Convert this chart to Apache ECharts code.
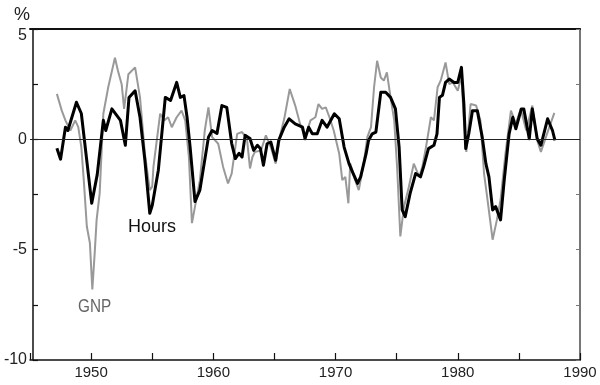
<!DOCTYPE html>
<html>
<head>
<meta charset="utf-8">
<script src="https://cdn.jsdelivr.net/npm/echarts@6/dist/echarts.min.js"></script>
<style>html,body{margin:0;padding:0;background:#fff}#c{width:600px;height:385px}</style>
</head>
<body>
<div id="c"></div>
<script>
var xTicks = [1950, 1960, 1970, 1980, 1990];
var yTicks = [5, 0, -5, -10];

var hours = [[1947.2,-0.4],[1947.5,-0.9],[1947.9,0.55],[1948.1,0.4],[1948.8,1.68],[1949.2,1.17],[1950.05,-2.9],[1950.5,-1.6],[1951.0,0.86],[1951.2,0.4],[1951.7,1.38],[1952.4,0.86],[1952.8,-0.27],[1953.1,1.9],[1953.6,2.2],[1954.0,1.0],[1954.4,-0.95],[1954.8,-3.35],[1955.0,-3.0],[1955.5,-1.4],[1956.07,1.9],[1956.5,1.76],[1957.0,2.58],[1957.3,1.9],[1957.6,1.98],[1957.85,1.0],[1958.1,-0.35],[1958.5,-2.82],[1958.9,-2.3],[1959.6,0.1],[1959.9,0.4],[1960.3,0.27],[1960.7,1.53],[1961.1,1.45],[1961.5,-0.18],[1961.8,-0.87],[1962.1,-0.63],[1962.35,-0.8],[1962.6,0.18],[1963.0,0.04],[1963.3,-0.5],[1963.6,-0.27],[1963.85,-0.42],[1964.1,-1.17],[1964.4,-0.2],[1964.7,-0.12],[1965.1,-0.95],[1965.35,-0.05],[1965.8,0.55],[1966.2,0.93],[1966.7,0.7],[1967.3,0.55],[1967.5,0.03],[1967.8,0.55],[1968.1,0.25],[1968.5,0.25],[1968.9,0.86],[1969.3,0.55],[1969.9,1.16],[1970.3,0.93],[1970.7,-0.35],[1971.1,-1.1],[1971.4,-1.5],[1971.8,-2.0],[1972.05,-1.7],[1972.5,-0.65],[1972.7,-0.05],[1973.0,0.25],[1973.3,0.33],[1973.7,2.13],[1974.1,2.13],[1974.5,1.9],[1974.9,1.38],[1975.2,-0.35],[1975.45,-3.2],[1975.7,-3.5],[1976.1,-2.45],[1976.55,-1.55],[1976.95,-1.7],[1977.2,-1.25],[1977.6,-0.42],[1978.05,-0.27],[1978.3,0.25],[1978.5,1.9],[1978.75,2.0],[1979.0,2.58],[1979.3,2.73],[1979.7,2.58],[1980.0,2.58],[1980.3,3.26],[1980.5,1.6],[1980.65,-0.42],[1980.9,0.25],[1981.2,1.3],[1981.6,1.3],[1982.0,0.1],[1982.3,-1.1],[1982.55,-1.7],[1982.85,-3.2],[1983.1,-3.05],[1983.5,-3.65],[1983.8,-1.85],[1984.2,0.25],[1984.5,1.0],[1984.75,0.48],[1985.2,1.38],[1985.4,1.38],[1985.85,0.03],[1986.1,1.38],[1986.5,0.03],[1986.8,-0.27],[1987.35,0.93],[1987.75,0.4],[1987.95,-0.05]];

var gnp = [[1947.2,2.06],[1947.6,1.3],[1947.9,0.86],[1948.3,0.4],[1948.7,0.86],[1948.95,0.55],[1949.2,-0.35],[1949.4,-1.85],[1949.65,-3.95],[1949.9,-4.7],[1950.1,-6.8],[1950.3,-5.1],[1950.45,-3.65],[1950.7,-2.45],[1951.0,1.16],[1951.4,2.36],[1951.95,3.7],[1952.2,3.1],[1952.5,2.5],[1952.7,1.38],[1953.05,2.95],[1953.6,3.26],[1954.0,1.9],[1954.4,-0.65],[1954.8,-2.3],[1955.0,-2.15],[1955.1,-1.25],[1955.65,1.16],[1956.0,0.86],[1956.3,1.0],[1956.6,0.55],[1957.0,1.0],[1957.4,1.3],[1957.7,0.86],[1958.0,-0.8],[1958.25,-3.8],[1958.5,-3.05],[1958.9,-1.85],[1959.3,0.4],[1959.6,1.45],[1959.9,0.1],[1960.4,-0.2],[1960.8,-1.25],[1961.2,-2.0],[1961.5,-1.55],[1961.95,0.25],[1962.35,0.33],[1962.75,0.03],[1963.0,-1.32],[1963.2,-0.8],[1963.4,-0.57],[1963.9,-0.5],[1964.3,0.18],[1964.7,-0.35],[1965.1,-1.1],[1965.5,0.25],[1965.8,0.93],[1966.25,2.28],[1966.7,1.53],[1967.1,0.7],[1967.5,0.1],[1967.95,0.86],[1968.35,1.0],[1968.6,1.6],[1968.9,1.38],[1969.2,1.45],[1969.5,1.0],[1969.85,0.4],[1970.3,-0.65],[1970.55,-1.85],[1970.8,-1.7],[1971.05,-2.9],[1971.2,-1.1],[1971.6,-1.85],[1971.9,-2.3],[1972.3,-1.1],[1972.6,0.1],[1972.9,0.55],[1973.15,2.36],[1973.4,3.56],[1973.7,2.8],[1973.95,2.66],[1974.2,3.03],[1974.5,1.9],[1974.8,0.86],[1975.05,-1.4],[1975.3,-4.4],[1975.6,-3.05],[1976.0,-2.15],[1976.4,-1.1],[1976.85,-1.7],[1977.1,-1.25],[1977.4,-0.35],[1977.8,1.0],[1978.05,0.86],[1978.35,2.36],[1978.6,2.66],[1979.0,3.48],[1979.3,2.5],[1979.6,2.58],[1980.0,2.2],[1980.3,2.88],[1980.5,0.86],[1980.7,-0.57],[1981.05,1.6],[1981.5,1.53],[1981.85,0.86],[1982.15,-1.55],[1982.4,-2.6],[1982.85,-4.55],[1983.2,-3.65],[1983.5,-2.75],[1983.9,-0.65],[1984.35,1.3],[1984.75,0.7],[1985.15,1.38],[1985.6,0.4],[1986.1,1.53],[1986.5,-0.05],[1986.8,-0.57],[1987.3,0.25],[1987.9,1.2]];

var FONT = '"Liberation Sans", Arial, sans-serif';
var chart = echarts.init(document.getElementById('c'), null, {renderer: 'canvas'});
chart.setOption({
  animation: false,
  backgroundColor: '#fff',
  grid: {left: 30, right: 20, top: 29, bottom: 25},
  xAxis: [{
    type: 'value', position: 'bottom', min: 1945, max: 1990, interval: 5,
    axisLine: {onZero: false, lineStyle: {color: '#111', width: 1.5}},
    axisTick: {inside: true, length: 7, lineStyle: {color: '#111', width: 1.2}},
    splitLine: {show: false},
    axisLabel: {
      margin: 5, color: '#222', fontFamily: FONT, fontSize: 15, showMaxLabel: true,
      formatter: function (v) { return xTicks.indexOf(v) >= 0 ? String(v) : ''; }
    }
  }, {
    type: 'value', position: 'top', min: 1945, max: 1990, interval: 5,
    axisLine: {onZero: false, lineStyle: {color: '#111', width: 2}},
    axisTick: {show: false}, axisLabel: {show: false}, splitLine: {show: false}
  }],
  yAxis: [{
    type: 'value', position: 'left', min: -10, max: 5, interval: 2.5, offset: -3,
    axisLine: {show: true, onZero: false, lineStyle: {color: '#111', width: 1.5}},
    axisTick: {show: true, inside: true, length: 5, lineStyle: {color: '#111', width: 1.2}},
    splitLine: {show: false},
    axisLabel: {
      margin: 6, color: '#222', fontFamily: FONT, fontSize: 16,
      formatter: function (v) {
        if (yTicks.indexOf(v) < 0) return '';
        return v === 5 ? '{top|' + v + '}' : String(v);
      },
      rich: {top: {fontFamily: FONT, fontSize: 16, color: '#222', padding: [14, 0, 0, 0]}}
    }
  }, {
    type: 'value', position: 'right', min: -10, max: 5, interval: 2.5,
    axisLine: {show: true, onZero: false, lineStyle: {color: '#777', width: 2}},
    axisTick: {show: true, inside: true, length: 4, lineStyle: {color: '#777', width: 1}},
    axisLabel: {show: false}, splitLine: {show: false}
  }],
  series: [{
    name: 'GNP', type: 'line', data: gnp, xAxisIndex: 0, yAxisIndex: 0,
    showSymbol: false, symbol: 'none', z: 2,
    lineStyle: {color: '#999', width: 2}
  }, {
    name: 'Hours', type: 'line', data: hours, xAxisIndex: 0, yAxisIndex: 0,
    showSymbol: false, symbol: 'none', z: 3,
    lineStyle: {color: '#000', width: 3, join: 'round'},
    markLine: {
      silent: true, symbol: 'none', label: {show: false},
      lineStyle: {color: '#222', width: 1, type: 'solid'},
      data: [{yAxis: 0}]
    }
  }],
  graphic: [
    {type: 'text', left: 14, top: 6, style: {text: '%', font: '18px ' + FONT, fill: '#222'}},
    {type: 'text', left: 128, top: 218, style: {text: 'Hours', font: '18px ' + FONT, fill: '#111'}},
    {type: 'text', left: 78, top: 298, scaleX: 0.85, style: {text: 'GNP', font: '18px ' + FONT, fill: '#666'}}
  ]
});
</script>
</body>
</html>
